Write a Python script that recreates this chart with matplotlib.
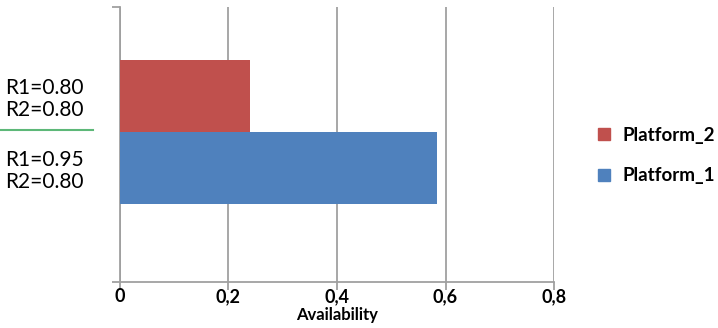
import numpy as np
import matplotlib
matplotlib.use('Agg')
import matplotlib.pyplot as plt
from matplotlib.patches import Patch
import matplotlib.transforms as mtransforms

# categories bottom to top
configs = ['R1=0.95\nR2=0.80', 'R1=0.80\nR2=0.80']
platforms = ['Platform_1', 'Platform_2']
availability = [0.585, 0.24]
colors = ['#4F81BD', '#C0504D']
xticks = [0, 0.2, 0.4, 0.6, 0.8]
xtick_labels = ['0', '0,2', '0,4', '0,6', '0,8']

plt.rcParams['font.family'] = ['Lato', 'DejaVu Sans']

fig = plt.figure(figsize=(7.18, 3.28), dpi=100)
ax = fig.add_axes([0.1671, 0.1402, 0.6045, 0.8385])

ypos = np.arange(len(configs))
ax.barh(ypos, availability, height=1.0, color=colors, zorder=3)

ax.set_xlim(0, 0.8)
ax.set_ylim(-1.583, 2.243)
ax.set_xticks(xticks)
ax.set_xticklabels(xtick_labels, fontsize=13, fontweight='bold')
ax.set_yticks(ypos)
ax.set_yticklabels(configs, fontsize=15, linespacing=1.1)
ax.tick_params(axis='y', length=0, pad=26)
ax.set_yticks([-1.583, 2.243], minor=True)
ax.tick_params(axis='y', which='minor', length=6, width=1.3, color='#A0A0A0', direction='out')
ax.tick_params(axis='x', length=6, width=1.3, color='#A0A0A0', direction='out', pad=-1.5)

ax.grid(axis='x', color='#A0A0A0', linewidth=1.3, zorder=0)
for s in ['top', 'right']:
    ax.spines[s].set_visible(False)
for s in ['left', 'bottom']:
    ax.spines[s].set_color('#A0A0A0')
    ax.spines[s].set_linewidth(1.3)

ax.set_xlabel('Availability', fontsize=12, fontweight='bold', labelpad=1)

# separator between the two configurations
trans = mtransforms.blended_transform_factory(ax.transAxes, ax.transData)
ax.plot([-0.276, -0.062], [0.53, 0.53], color='#5DB878', linewidth=1.5,
        transform=trans, clip_on=False)

handles = [Patch(color=colors[1], label=platforms[1]),
           Patch(color=colors[0], label=platforms[0])]
fig.legend(handles=handles, loc='upper left', bbox_to_anchor=(0.81, 0.665),
           frameon=False, handlelength=0.6, handleheight=0.6,
           handletextpad=0.7, labelspacing=1.25,
           prop={'weight': 'bold', 'size': 13.5})

fig.savefig('out.png', dpi=100)
